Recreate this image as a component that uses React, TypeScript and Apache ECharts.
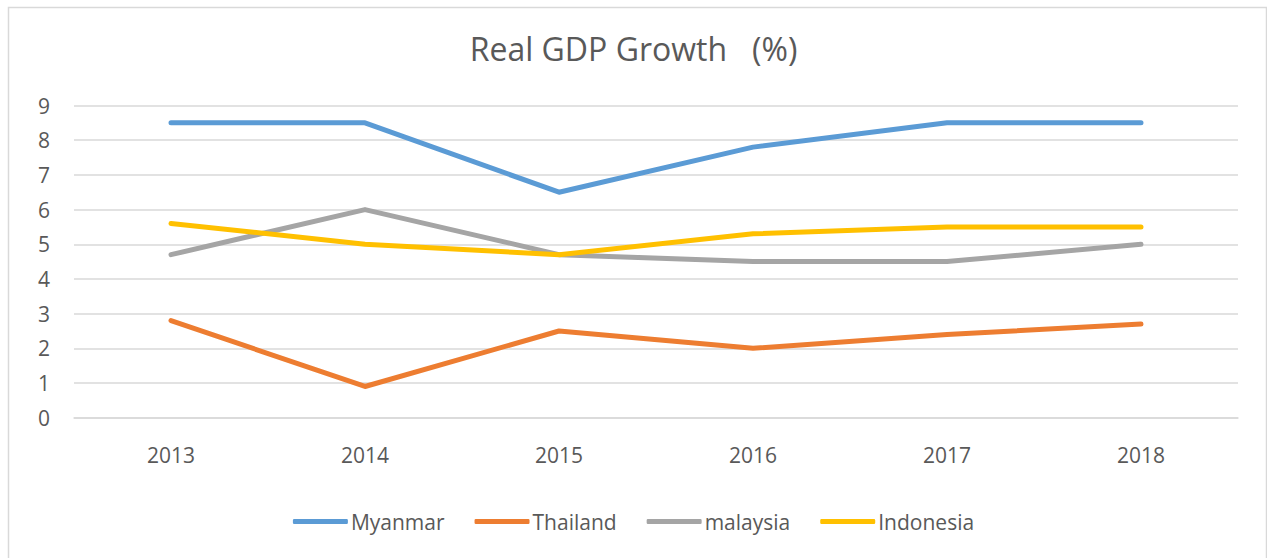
import React, { useEffect, useRef } from "react";
import * as echarts from "echarts";

const years = ["2013", "2014", "2015", "2016", "2017", "2018"];
const myanmar = [8.5, 8.5, 6.5, 7.8, 8.5, 8.5];
const thailand = [2.8, 0.9, 2.5, 2.0, 2.4, 2.7];
const malaysia = [4.7, 6.0, 4.7, 4.5, 4.5, 5.0];
const indonesia = [5.6, 5.0, 4.7, 5.3, 5.5, 5.5];
const seriesNames = ["Myanmar", "Thailand", "malaysia", "Indonesia"];
const seriesColors = ["#5B9BD5", "#ED7D31", "#A5A5A5", "#FFC000"];

const FONT = "'Open Sans', 'Noto Sans', sans-serif";

export default function App() {
  const ref = useRef<HTMLDivElement>(null);
  useEffect(() => {
    if (!ref.current) return;
    const chart = echarts.init(ref.current, undefined, { renderer: "svg" });
    const data = [myanmar, thailand, malaysia, indonesia];
    chart.setOption({
      animation: false,
      backgroundColor: "#ffffff",
      title: {
        text: "Real GDP Growth   (%)",
        left: "center",
        top: 27,
        textStyle: { fontFamily: FONT, fontSize: 32, fontWeight: "normal", color: "#595959" },
      },
      graphic: [
        {
          type: "rect",
          shape: { x: 8.5, y: 7.5, width: 1258, height: 560 },
          style: { fill: "none", stroke: "#d9d9d9", lineWidth: 1.5 },
          silent: true,
        },
      ],
      legend: {
        data: seriesNames,
        bottom: 21,
        left: "center",
        icon: "roundRect",
        itemWidth: 55,
        itemHeight: 5,
        itemGap: 30,
        textStyle: { fontFamily: FONT, fontSize: 21, color: "#595959", padding: [0, 0, 0, -2] },
      },
      grid: { left: 74, right: 29, top: 105.5, bottom: 140.3, containLabel: false },
      xAxis: {
        type: "category",
        data: years,
        boundaryGap: true,
        axisLine: { show: true, lineStyle: { color: "#d9d9d9", width: 1.5 } },
        axisTick: { show: false },
        axisLabel: { fontFamily: FONT, fontSize: 21, color: "#595959", margin: 27 },
      },
      yAxis: {
        type: "value",
        min: 0,
        max: 9,
        interval: 1,
        axisLine: { show: false },
        axisTick: { show: false },
        splitLine: { lineStyle: { color: "#d9d9d9", width: 1.5 } },
        axisLabel: { fontFamily: FONT, fontSize: 21, color: "#595959", margin: 24 },
      },
      series: seriesNames.map((name, i) => ({
        name,
        type: "line",
        data: data[i],
        showSymbol: false,
        symbol: "none",
        color: seriesColors[i],
        lineStyle: { width: 5, color: seriesColors[i], cap: "round", join: "round" },
      })),
    });
    return () => chart.dispose();
  }, []);
  return (
    <div
      ref={ref}
      style={{ position: "absolute", left: 0, top: 0, width: 1267, height: 558 }}
    />
  );
}
